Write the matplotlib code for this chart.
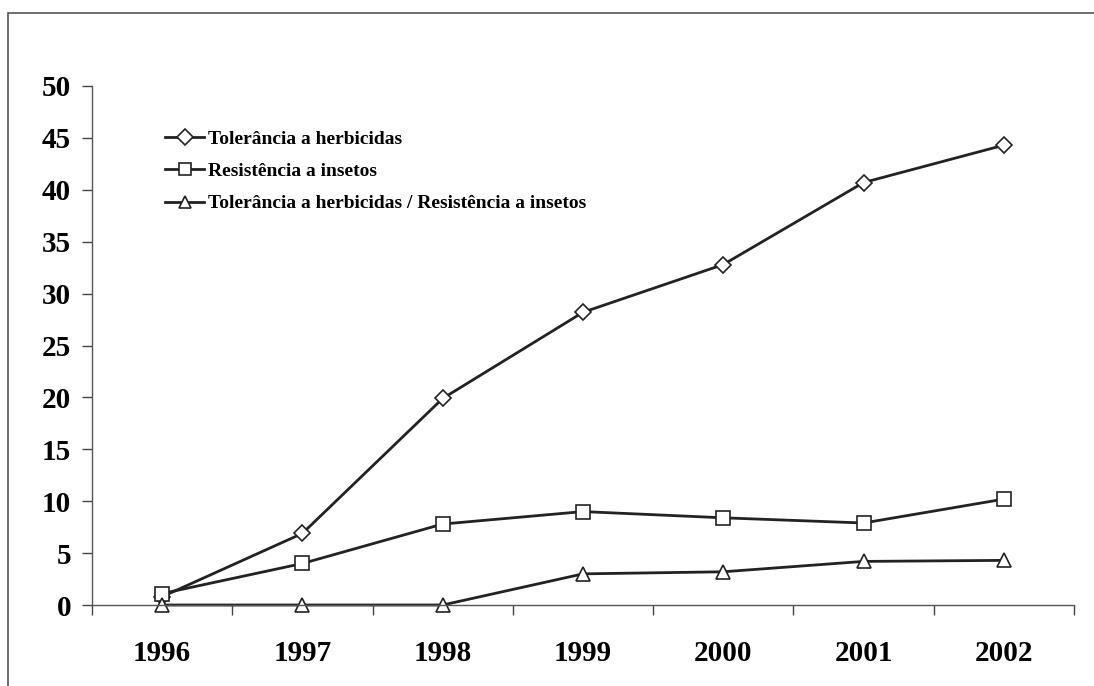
import matplotlib
matplotlib.use("Agg")
import matplotlib.pyplot as plt
from matplotlib.patches import Rectangle

years = ["1996", "1997", "1998", "1999", "2000", "2001", "2002"]
tolerancia = [0.8, 6.9, 19.9, 28.2, 32.8, 40.7, 44.3]
resistencia = [1.1, 4.0, 7.8, 9.0, 8.4, 7.9, 10.2]
ambos = [0.0, 0.0, 0.0, 3.0, 3.2, 4.2, 4.3]
labels = ["Tolerância a herbicidas",
          "Resistência a insetos",
          "Tolerância a herbicidas / Resistência a insetos"]
y_ticks = list(range(0, 51, 5))

plt.rcParams["font.family"] = ["Liberation Serif", "DejaVu Serif"]
plt.rcParams["font.weight"] = "bold"

fig = plt.figure(figsize=(10.94, 6.86), dpi=100)
ax = fig.add_axes([92 / 1094, 81 / 686, 982 / 1094, 519 / 686])

# outer frame (only top and left edges visible in the reference)
fig.patches.append(Rectangle((8 / 1094, -0.2), 2.0, 1.2 - 13 / 686,
                             transform=fig.transFigure, fill=False,
                             edgecolor="#555555", linewidth=1.2))

x = list(range(len(years)))
mk = dict(color="#222222", linewidth=2.0, markersize=10,
          markerfacecolor="white", markeredgecolor="#222222", markeredgewidth=1.2)
ax.plot(x, tolerancia, marker="D", label=labels[0], **{**mk, "markersize": 8.5})
ax.plot(x, resistencia, marker="s", label=labels[1], **mk)
ax.plot(x, ambos, marker="^", label=labels[2], **mk)

ax.set_xlim(-0.5, len(years) - 0.5)
ax.set_ylim(0, 50)
ax.set_yticks(y_ticks)
ax.set_yticklabels([str(v) for v in y_ticks], fontsize=21, fontweight="bold")
ax.set_xticks([i - 0.5 for i in range(len(years) + 1)])
ax.set_xticklabels([])
ax.set_xticks(x, minor=True)
ax.set_xticklabels(years, minor=True, fontsize=21, fontweight="bold")
ax.tick_params(axis="x", which="major", direction="out", length=7, width=1, color="#444444")
ax.tick_params(axis="x", which="minor", length=0, pad=25)
ax.tick_params(axis="y", direction="out", length=7, width=1, color="#444444", pad=8)

for s in ["top", "right"]:
    ax.spines[s].set_visible(False)
for s in ["left", "bottom"]:
    ax.spines[s].set_color("#555555")
    ax.spines[s].set_linewidth(1.0)
for line in ax.lines:
    line.set_clip_on(False)

leg = ax.legend(loc="upper left", bbox_to_anchor=(0.057, 0.949), frameon=False,
                handlelength=2.0, handletextpad=0.2, labelspacing=0.76,
                prop={"size": 14, "weight": "bold"})
for h in leg.legend_handles:
    h.set_markersize(8)

fig.savefig("out.png", dpi=100)
